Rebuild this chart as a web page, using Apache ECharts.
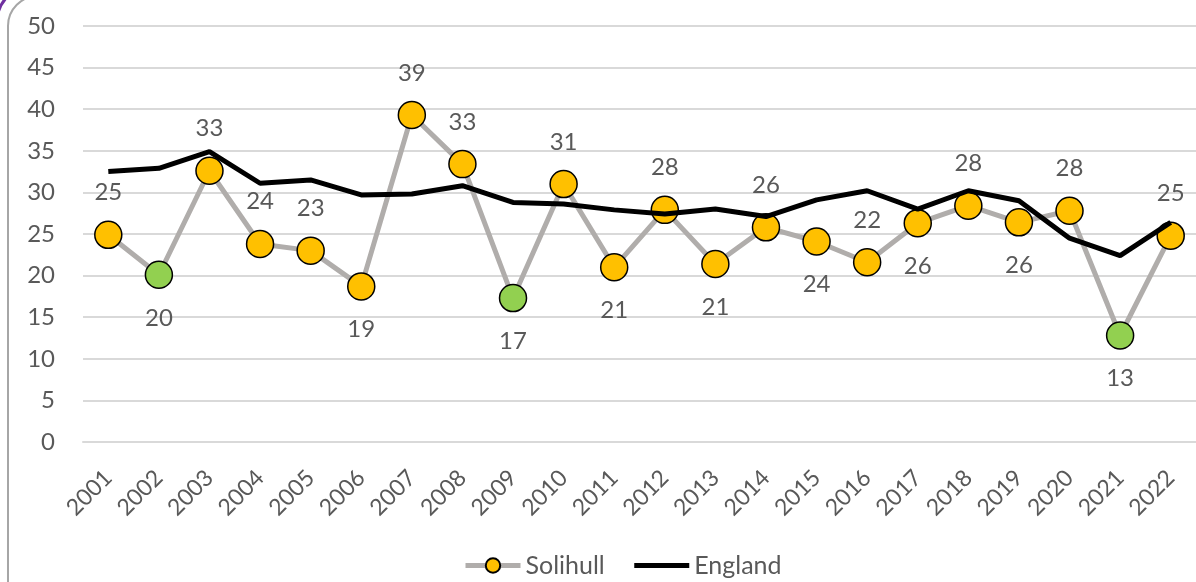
<!DOCTYPE html>
<html>
<head>
<meta charset="utf-8">
<script src="https://cdn.jsdelivr.net/npm/echarts@6/dist/echarts.min.js"></script>
<style>
html,body{margin:0;padding:0;background:#fff;}
#chart{width:1196px;height:582px;}
</style>
</head>
<body>
<div id="chart"></div>
<script>
const years = ['2001','2002','2003','2004','2005','2006','2007','2008','2009','2010','2011','2012','2013','2014','2015','2016','2017','2018','2019','2020','2021','2022'];
const solihull = [24.9,20.1,32.6,23.8,23.0,18.7,39.3,33.4,17.3,31.0,21.0,27.9,21.4,25.8,24.1,21.6,26.3,28.4,26.4,27.8,12.8,24.8];
const england = [32.5,32.9,34.9,31.1,31.5,29.7,29.8,30.8,28.8,28.6,27.9,27.4,28.0,27.1,29.1,30.2,28.0,30.2,29.0,24.5,22.4,26.4];
const greenYears = ['2002','2009','2021'];
const labelBelowYears = ['2002','2006','2009','2011','2013','2015','2017','2019','2021'];
const yTicks = [0,5,10,15,20,25,30,35,40,45,50];

const FONT = 'Lato';
const TXT = '#595959';

const solihullData = years.map((y, i) => {
  const item = { value: solihull[i] };
  if (greenYears.includes(y)) item.itemStyle = { color: '#92d050' };
  const below = labelBelowYears.includes(y);
  item.label = { position: below ? 'bottom' : 'top', distance: below ? 17 : 16 };
  return item;
});

const chart = echarts.init(document.getElementById('chart'));
chart.setOption({
  backgroundColor: '#fff',
  animation: false,
  textStyle: { fontFamily: FONT },
  graphic: [
    { type: 'rect', shape: { x: 8, y: -4, width: 1400, height: 620, r: 30 }, style: { fill: 'none', stroke: '#a6a6a6', lineWidth: 2 }, z: -10 },
    { type: 'rect', shape: { x: -3, y: -14, width: 1400, height: 640, r: 36 }, style: { fill: 'none', stroke: '#7030a0', lineWidth: 3 }, z: -10 }
  ],
  grid: { left: 83, right: 0, top: 26, bottom: 140, containLabel: false },
  legend: {
    data: [
      { name: 'Solihull', lineStyle: { width: 5, color: '#b0adab' } },
      { name: 'England', lineStyle: { width: 5, color: '#000' }, itemStyle: { opacity: 0 } }
    ],
    bottom: 4,
    left: 463,
    padding: 0,
    itemWidth: 55,
    itemHeight: 18,
    itemGap: 27,
    textStyle: { fontFamily: FONT, fontSize: 25, color: TXT }
  },
  xAxis: {
    type: 'category',
    data: years,
    boundaryGap: true,
    axisLine: { lineStyle: { color: '#d9d9d9', width: 2 } },
    axisTick: { show: false },
    axisLabel: { rotate: 45, margin: 32, fontFamily: FONT, fontSize: 23, color: TXT, interval: 0 }
  },
  yAxis: {
    type: 'value',
    min: yTicks[0],
    max: yTicks[yTicks.length - 1],
    interval: 5,
    axisLine: { show: false },
    axisTick: { show: false },
    splitLine: { lineStyle: { color: '#d9d9d9', width: 2 } },
    axisLabel: { margin: 28, fontFamily: FONT, fontSize: 24, color: TXT }
  },
  series: [
    {
      name: 'Solihull',
      type: 'line',
      data: solihullData,
      symbol: 'circle',
      symbolSize: 27,
      z: 2,
      lineStyle: { color: '#b0adab', width: 5 },
      itemStyle: { color: '#ffc000', borderColor: '#000', borderWidth: 1.5 },
      label: {
        show: true,
        fontFamily: FONT,
        fontSize: 24,
        color: TXT,
        formatter: p => Math.round(p.value)
      }
    },
    {
      name: 'England',
      type: 'line',
      data: england,
      symbol: 'none',
      z: 3,
      lineStyle: { color: '#000', width: 5 },
      itemStyle: { color: '#000' }
    }
  ]
});
</script>
</body>
</html>
